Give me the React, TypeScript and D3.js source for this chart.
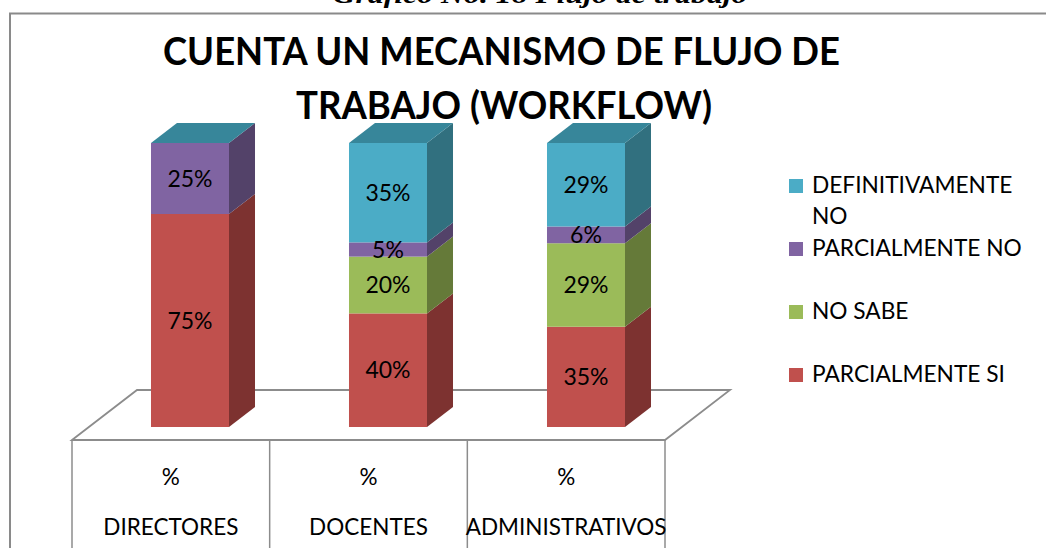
import React from "react";
import * as d3 from "d3";

const categories = ["DIRECTORES", "DOCENTES", "ADMINISTRATIVOS"];
const rowLabel = "%";
const seriesNames = ["PARCIALMENTE SI", "NO SABE", "PARCIALMENTE NO", "DEFINITIVAMENTE NO"];
const parcialmenteSi = [75, 40, 35.3];
const noSabe = [0, 20, 29.4];
const parcialmenteNo = [25, 5, 5.9];
const definitivamenteNo = [0, 35, 29.4];
const valueLabels = [
  ["75%", "", "25%", ""],
  ["40%", "20%", "5%", "35%"],
  ["35%", "29%", "6%", "29%"],
];
const titleLines = ["CUENTA UN MECANISMO DE FLUJO DE", "TRABAJO (WORKFLOW)"];
const caption = "Gráfico No. 18 Flujo de trabajo";

const front = ["#C0504D", "#9BBB59", "#8064A2", "#4BACC6"];
const side = ["#7D3230", "#657A39", "#534269", "#31707F"];
const topC = ["#96403D", "#7A9446", "#664F83", "#37869A"];

export default function App() {
  const W = 1046, H = 548;
  const series = [parcialmenteSi, noSabe, parcialmenteNo, definitivamenteNo];
  const y = d3.scaleLinear().domain([0, 100]).range([427, 143]);
  const x = d3.scaleBand().domain(categories).range([91, 685]).paddingInner(0.606).paddingOuter(0.303);
  const cell = d3.scaleBand().domain(categories).range([72, 665]);
  const dx = 26, dy = -20;
  const fdx = 65, floorFront = 440, floorBack = 390;
  const font = "Lato, 'Open Sans', sans-serif";
  const grey = "#8C8C8C";

  const bars = categories.map((c, i) => {
    const x0 = x(c)!;
    const bw = x.bandwidth();
    let acc = 0;
    const segs = series.map((s, k) => {
      const v0 = acc;
      acc += s[i];
      return { k, v0, v1: acc };
    });
    return { c, x0, bw, segs };
  });

  return (
    <svg width={W} height={H} style={{ position: "absolute", left: 0, top: 0 }}>
      <rect x={0} y={0} width={W} height={H} fill="#fff" />
      <text x={540} y={3} textAnchor="middle" fontFamily="'Liberation Serif', serif" fontWeight="bold" fontStyle="italic" fontSize={26}
        textLength={415} lengthAdjust="spacingAndGlyphs">{caption}</text>
      <path d={`M10,${H} L10,13.5 L${W},13.5`} fill="none" stroke="#8a8a8a" strokeWidth={2} />
      {titleLines.map((t, i) => (
        <text key={i} x={i === 0 ? 501.5 : 504} y={i === 0 ? 65 : 119} textAnchor="middle" fontFamily={font} fontWeight="bold" fontSize={38}
          textLength={i === 0 ? 677 : 416} lengthAdjust="spacingAndGlyphs">{t}</text>
      ))}
      {/* floor */}
      <path d={`M72,${floorFront} L${72 + fdx},${floorBack} L${665 + fdx},${floorBack} L665,${floorFront} Z`} fill="#fff" stroke={grey} strokeWidth={1.8} />
      {/* table */}
      {[0, 1, 2, 3].map((j) => {
        const xx = j < 3 ? cell(categories[j])! : 665;
        return <line key={j} x1={xx} x2={xx} y1={floorFront} y2={H} stroke={grey} strokeWidth={1.5} />;
      })}
      {categories.map((c) => (
        <g key={c}>
          <text x={cell(c)! + cell.bandwidth() / 2} y={485} textAnchor="middle" fontFamily={font} fontSize={22.5}>{rowLabel}</text>
          <text x={cell(c)! + cell.bandwidth() / 2} y={535} textAnchor="middle" fontFamily={font} fontSize={22.5}>{c}</text>
        </g>
      ))}
      {/* bars */}
      {bars.map((b) => (
        <g key={b.c}>
          {b.segs.map((s) => {
            const ya = y(s.v0), yb = y(s.v1);
            const xr = b.x0 + b.bw;
            return (
              <g key={s.k}>
                {s.v1 > s.v0 && (
                  <>
                    <rect x={b.x0} y={yb} width={b.bw} height={ya - yb} fill={front[s.k]} />
                    <path d={`M${xr},${ya} L${xr + dx},${ya + dy} L${xr + dx},${yb + dy} L${xr},${yb} Z`} fill={side[s.k]} />
                  </>
                )}
              </g>
            );
          })}
          {(() => {
            const yt = y(b.segs[b.segs.length - 1].v1);
            const xr = b.x0 + b.bw;
            return <path d={`M${b.x0},${yt} L${b.x0 + dx},${yt + dy} L${xr + dx},${yt + dy} L${xr},${yt} Z`} fill={topC[3]} />;
          })()}
          {b.segs.map((s, k) => {
            const lbl = valueLabels[categories.indexOf(b.c)][k];
            if (!lbl) return null;
            return (
              <text key={k} x={b.x0 + b.bw / 2} y={(y(s.v0) + y(s.v1)) / 2 + 8} textAnchor="middle" fontFamily={font} fontSize={23}>{lbl}</text>
            );
          })}
        </g>
      ))}
      {/* legend */}
      {[3, 2, 1, 0].map((k, i) => {
        const yy = 193 + i * 63;
        const name = seriesNames[k];
        const lines = k === 3 ? ["DEFINITIVAMENTE", "NO"] : [name];
        return (
          <g key={k}>
            <rect x={789} y={yy - 14} width={14} height={14} fill={front[k]} />
            {lines.map((l, li) => (
              <text key={li} x={812} y={yy + li * 31} fontFamily={font} fontSize={22.7}>{l}</text>
            ))}
          </g>
        );
      })}
    </svg>
  );
}
